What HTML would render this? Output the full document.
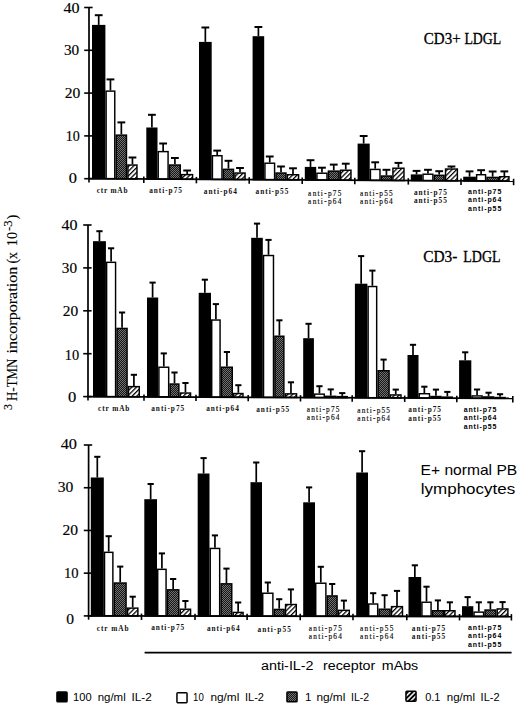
<!DOCTYPE html><html><head><meta charset="utf-8"><style>html,body{margin:0;padding:0;background:#fff;}body{width:520px;height:706px;overflow:hidden;position:relative;}svg{position:absolute;left:0;top:0;}text{font-family:"Liberation Sans",sans-serif;}.sf{font-family:"Liberation Serif",serif;}</style></head><body>
<svg width="520" height="706" viewBox="0 0 520 706">
<defs><pattern id="hatch" patternUnits="userSpaceOnUse" width="3.3" height="3.3" patternTransform="rotate(45)"><rect width="3.3" height="3.3" fill="#fff"/><rect width="1.25" height="3.3" fill="#000"/></pattern><pattern id="hatchL" patternUnits="userSpaceOnUse" width="3.4" height="3.4" patternTransform="rotate(45)"><rect width="3.4" height="3.4" fill="#000"/><rect width="1.5" height="3.4" fill="#fff"/></pattern><pattern id="dots" patternUnits="userSpaceOnUse" width="2" height="2"><rect width="2" height="2" fill="#161616"/><rect width="1" height="1" fill="#727272"/><rect x="1" y="1" width="1" height="1" fill="#727272"/></pattern></defs>
<rect width="520" height="706" fill="#fff"/>
<line x1="98.70" y1="15.20" x2="98.70" y2="24.90" stroke="#000" stroke-width="1.7"/><line x1="94.80" y1="15.20" x2="102.60" y2="15.20" stroke="#000" stroke-width="2.0"/><rect x="92.72" y="25.62" width="11.95" height="153.13" fill="#000" stroke="#000" stroke-width="1.45"/><line x1="110.45" y1="79.40" x2="110.45" y2="90.40" stroke="#000" stroke-width="1.7"/><line x1="106.55" y1="79.40" x2="114.35" y2="79.40" stroke="#000" stroke-width="2.0"/><rect x="106.12" y="91.12" width="8.65" height="87.70" fill="#fff" stroke="#000" stroke-width="1.45"/><line x1="121.35" y1="122.40" x2="121.35" y2="134.40" stroke="#000" stroke-width="1.7"/><line x1="117.45" y1="122.40" x2="125.25" y2="122.40" stroke="#000" stroke-width="2.0"/><rect x="116.22" y="135.12" width="10.25" height="43.77" fill="url(#dots)" stroke="#000" stroke-width="1.45"/><line x1="132.45" y1="157.50" x2="132.45" y2="164.30" stroke="#000" stroke-width="1.7"/><line x1="128.55" y1="157.50" x2="136.35" y2="157.50" stroke="#000" stroke-width="2.0"/><rect x="127.92" y="165.03" width="9.05" height="13.93" fill="url(#hatch)" stroke="#000" stroke-width="1.45"/><line x1="151.90" y1="114.80" x2="151.90" y2="127.50" stroke="#000" stroke-width="1.7"/><line x1="148.00" y1="114.80" x2="155.80" y2="114.80" stroke="#000" stroke-width="2.0"/><rect x="147.03" y="128.22" width="9.75" height="50.85" fill="#000" stroke="#000" stroke-width="1.45"/><line x1="163.15" y1="143.50" x2="163.15" y2="150.90" stroke="#000" stroke-width="1.7"/><line x1="159.25" y1="143.50" x2="167.05" y2="143.50" stroke="#000" stroke-width="2.0"/><rect x="158.22" y="151.62" width="9.85" height="27.51" fill="#fff" stroke="#000" stroke-width="1.45"/><line x1="174.90" y1="158.00" x2="174.90" y2="164.30" stroke="#000" stroke-width="1.7"/><line x1="171.00" y1="158.00" x2="178.80" y2="158.00" stroke="#000" stroke-width="2.0"/><rect x="169.53" y="165.03" width="10.75" height="14.18" fill="url(#dots)" stroke="#000" stroke-width="1.45"/><line x1="187.15" y1="170.50" x2="187.15" y2="173.90" stroke="#000" stroke-width="1.7"/><line x1="183.25" y1="170.50" x2="191.05" y2="170.50" stroke="#000" stroke-width="2.0"/><rect x="181.72" y="174.62" width="10.85" height="4.66" fill="url(#hatch)" stroke="#000" stroke-width="1.45"/><line x1="205.35" y1="27.50" x2="205.35" y2="41.90" stroke="#000" stroke-width="1.7"/><line x1="201.45" y1="27.50" x2="209.25" y2="27.50" stroke="#000" stroke-width="2.0"/><rect x="199.72" y="42.62" width="11.25" height="136.76" fill="#000" stroke="#000" stroke-width="1.45"/><line x1="217.20" y1="150.60" x2="217.20" y2="155.00" stroke="#000" stroke-width="1.7"/><line x1="213.30" y1="150.60" x2="221.10" y2="150.60" stroke="#000" stroke-width="2.0"/><rect x="212.42" y="155.72" width="9.55" height="23.73" fill="#fff" stroke="#000" stroke-width="1.45"/><line x1="228.45" y1="160.80" x2="228.45" y2="168.60" stroke="#000" stroke-width="1.7"/><line x1="224.55" y1="160.80" x2="232.35" y2="160.80" stroke="#000" stroke-width="2.0"/><rect x="223.42" y="169.32" width="10.05" height="10.20" fill="url(#dots)" stroke="#000" stroke-width="1.45"/><line x1="240.00" y1="168.00" x2="240.00" y2="172.30" stroke="#000" stroke-width="1.7"/><line x1="236.10" y1="168.00" x2="243.90" y2="168.00" stroke="#000" stroke-width="2.0"/><rect x="234.92" y="173.03" width="10.15" height="6.57" fill="url(#hatch)" stroke="#000" stroke-width="1.45"/><line x1="258.40" y1="27.00" x2="258.40" y2="36.20" stroke="#000" stroke-width="1.7"/><line x1="254.50" y1="27.00" x2="262.30" y2="27.00" stroke="#000" stroke-width="2.0"/><rect x="253.32" y="36.93" width="10.15" height="142.78" fill="#000" stroke="#000" stroke-width="1.45"/><line x1="269.75" y1="156.50" x2="269.75" y2="162.50" stroke="#000" stroke-width="1.7"/><line x1="265.85" y1="156.50" x2="273.65" y2="156.50" stroke="#000" stroke-width="2.0"/><rect x="264.93" y="163.22" width="9.65" height="16.54" fill="#fff" stroke="#000" stroke-width="1.45"/><line x1="281.00" y1="166.50" x2="281.00" y2="172.30" stroke="#000" stroke-width="1.7"/><line x1="277.10" y1="166.50" x2="284.90" y2="166.50" stroke="#000" stroke-width="2.0"/><rect x="276.03" y="173.03" width="9.95" height="6.81" fill="url(#dots)" stroke="#000" stroke-width="1.45"/><line x1="293.00" y1="168.30" x2="293.00" y2="174.00" stroke="#000" stroke-width="1.7"/><line x1="289.10" y1="168.30" x2="296.90" y2="168.30" stroke="#000" stroke-width="2.0"/><rect x="287.43" y="174.72" width="11.15" height="5.18" fill="url(#hatch)" stroke="#000" stroke-width="1.45"/><line x1="310.50" y1="160.20" x2="310.50" y2="166.90" stroke="#000" stroke-width="1.7"/><line x1="306.60" y1="160.20" x2="314.40" y2="160.20" stroke="#000" stroke-width="2.0"/><rect x="305.53" y="167.62" width="9.95" height="12.38" fill="#000" stroke="#000" stroke-width="1.45"/><line x1="321.95" y1="167.70" x2="321.95" y2="172.50" stroke="#000" stroke-width="1.7"/><line x1="318.05" y1="167.70" x2="325.85" y2="167.70" stroke="#000" stroke-width="2.0"/><rect x="316.93" y="173.22" width="10.05" height="6.85" fill="#fff" stroke="#000" stroke-width="1.45"/><line x1="333.75" y1="164.60" x2="333.75" y2="170.40" stroke="#000" stroke-width="1.7"/><line x1="329.85" y1="164.60" x2="337.65" y2="164.60" stroke="#000" stroke-width="2.0"/><rect x="328.43" y="171.12" width="10.65" height="9.02" fill="url(#dots)" stroke="#000" stroke-width="1.45"/><line x1="345.75" y1="163.70" x2="345.75" y2="169.50" stroke="#000" stroke-width="1.7"/><line x1="341.85" y1="163.70" x2="349.65" y2="163.70" stroke="#000" stroke-width="2.0"/><rect x="340.53" y="170.22" width="10.45" height="9.99" fill="url(#hatch)" stroke="#000" stroke-width="1.45"/><line x1="363.65" y1="136.00" x2="363.65" y2="143.60" stroke="#000" stroke-width="1.7"/><line x1="359.75" y1="136.00" x2="367.55" y2="136.00" stroke="#000" stroke-width="2.0"/><rect x="358.33" y="144.32" width="10.65" height="36.00" fill="#000" stroke="#000" stroke-width="1.45"/><line x1="375.20" y1="162.30" x2="375.20" y2="168.70" stroke="#000" stroke-width="1.7"/><line x1="371.30" y1="162.30" x2="379.10" y2="162.30" stroke="#000" stroke-width="2.0"/><rect x="370.43" y="169.42" width="9.55" height="10.97" fill="#fff" stroke="#000" stroke-width="1.45"/><line x1="386.45" y1="169.80" x2="386.45" y2="175.30" stroke="#000" stroke-width="1.7"/><line x1="382.55" y1="169.80" x2="390.35" y2="169.80" stroke="#000" stroke-width="2.0"/><rect x="381.43" y="176.03" width="10.05" height="4.43" fill="url(#dots)" stroke="#000" stroke-width="1.45"/><line x1="398.45" y1="162.90" x2="398.45" y2="167.50" stroke="#000" stroke-width="1.7"/><line x1="394.55" y1="162.90" x2="402.35" y2="162.90" stroke="#000" stroke-width="2.0"/><rect x="392.93" y="168.22" width="11.05" height="12.30" fill="url(#hatch)" stroke="#000" stroke-width="1.45"/><line x1="416.55" y1="170.90" x2="416.55" y2="174.40" stroke="#000" stroke-width="1.7"/><line x1="412.65" y1="170.90" x2="420.45" y2="170.90" stroke="#000" stroke-width="2.0"/><rect x="411.53" y="175.12" width="10.05" height="5.51" fill="#000" stroke="#000" stroke-width="1.45"/><line x1="427.95" y1="169.80" x2="427.95" y2="173.50" stroke="#000" stroke-width="1.7"/><line x1="424.05" y1="169.80" x2="431.85" y2="169.80" stroke="#000" stroke-width="2.0"/><rect x="423.03" y="174.22" width="9.85" height="6.48" fill="#fff" stroke="#000" stroke-width="1.45"/><line x1="439.20" y1="171.20" x2="439.20" y2="174.60" stroke="#000" stroke-width="1.7"/><line x1="435.30" y1="171.20" x2="443.10" y2="171.20" stroke="#000" stroke-width="2.0"/><rect x="434.33" y="175.32" width="9.75" height="5.44" fill="url(#dots)" stroke="#000" stroke-width="1.45"/><line x1="451.45" y1="166.50" x2="451.45" y2="168.30" stroke="#000" stroke-width="1.7"/><line x1="447.55" y1="166.50" x2="455.35" y2="166.50" stroke="#000" stroke-width="2.0"/><rect x="445.53" y="169.03" width="11.85" height="11.82" fill="url(#hatch)" stroke="#000" stroke-width="1.45"/><line x1="469.55" y1="171.40" x2="469.55" y2="176.70" stroke="#000" stroke-width="1.7"/><line x1="465.65" y1="171.40" x2="473.45" y2="171.40" stroke="#000" stroke-width="2.0"/><rect x="463.93" y="177.42" width="11.25" height="3.52" fill="#000" stroke="#000" stroke-width="1.45"/><line x1="481.10" y1="170.20" x2="481.10" y2="174.00" stroke="#000" stroke-width="1.7"/><line x1="477.20" y1="170.20" x2="485.00" y2="170.20" stroke="#000" stroke-width="2.0"/><rect x="476.62" y="174.72" width="8.95" height="6.29" fill="#fff" stroke="#000" stroke-width="1.45"/><line x1="492.65" y1="171.50" x2="492.65" y2="176.70" stroke="#000" stroke-width="1.7"/><line x1="488.75" y1="171.50" x2="496.55" y2="171.50" stroke="#000" stroke-width="2.0"/><rect x="487.03" y="177.42" width="11.25" height="3.66" fill="url(#dots)" stroke="#000" stroke-width="1.45"/><line x1="504.35" y1="171.40" x2="504.35" y2="176.00" stroke="#000" stroke-width="1.7"/><line x1="500.45" y1="171.40" x2="508.25" y2="171.40" stroke="#000" stroke-width="2.0"/><rect x="499.73" y="176.72" width="9.25" height="4.43" fill="url(#hatch)" stroke="#000" stroke-width="1.45"/>
<line x1="89.0" y1="7.5" x2="89.0" y2="178.7" stroke="#000" stroke-width="1.7"/>
<line x1="88.15" y1="178.7" x2="513.6" y2="181.21" stroke="#000" stroke-width="1.8"/>
<line x1="84.2" y1="178.70" x2="92.6" y2="178.70" stroke="#000" stroke-width="1.6"/>
<line x1="84.2" y1="135.90" x2="92.6" y2="135.90" stroke="#000" stroke-width="1.6"/>
<line x1="84.2" y1="93.10" x2="92.6" y2="93.10" stroke="#000" stroke-width="1.6"/>
<line x1="84.2" y1="50.30" x2="92.6" y2="50.30" stroke="#000" stroke-width="1.6"/>
<line x1="84.2" y1="7.50" x2="92.6" y2="7.50" stroke="#000" stroke-width="1.6"/>
<text class="sf" x="63.50" y="12.70" font-size="14.3" textLength="16.10" lengthAdjust="spacingAndGlyphs" stroke="#000" stroke-width="0.15">40</text>
<text class="sf" x="63.90" y="55.15" font-size="14.3" textLength="15.30" lengthAdjust="spacingAndGlyphs" stroke="#000" stroke-width="0.15">30</text>
<text class="sf" x="64.70" y="98.20" font-size="14.3" textLength="15.60" lengthAdjust="spacingAndGlyphs" stroke="#000" stroke-width="0.15">20</text>
<text class="sf" x="65.70" y="140.60" font-size="14.3" textLength="14.10" lengthAdjust="spacingAndGlyphs" stroke="#000" stroke-width="0.15">10</text>
<text class="sf" x="68.80" y="183.35" font-size="14.3" textLength="8.20" lengthAdjust="spacingAndGlyphs" stroke="#000" stroke-width="0.15">0</text>
<line x1="89.0" y1="178.7" x2="89.0" y2="182.5" stroke="#000" stroke-width="1.6"/>
<line x1="143.8" y1="176.62" x2="143.8" y2="183.02" stroke="#000" stroke-width="1.6"/>
<line x1="196.4" y1="176.93" x2="196.4" y2="183.33" stroke="#000" stroke-width="1.6"/>
<line x1="249.2" y1="177.25" x2="249.2" y2="183.65" stroke="#000" stroke-width="1.6"/>
<line x1="302.2" y1="177.56" x2="302.2" y2="183.96" stroke="#000" stroke-width="1.6"/>
<line x1="354.8" y1="177.87" x2="354.8" y2="184.27" stroke="#000" stroke-width="1.6"/>
<line x1="408.3" y1="178.19" x2="408.3" y2="184.59" stroke="#000" stroke-width="1.6"/>
<line x1="461.0" y1="178.50" x2="461.0" y2="184.90" stroke="#000" stroke-width="1.6"/>
<line x1="513.6" y1="178.81" x2="513.6" y2="185.21" stroke="#000" stroke-width="1.6"/>
<text class="sf" x="96.70" y="193.20" font-weight="bold" font-size="7.3" textLength="30.8" lengthAdjust="spacing" fill="#111">ctr mAb</text>
<text class="sf" x="149.20" y="192.80" font-weight="bold" font-size="7.3" textLength="32.7" lengthAdjust="spacing" fill="#111">anti-p75</text>
<text class="sf" x="203.70" y="193.60" font-weight="bold" font-size="7.3" textLength="33.2" lengthAdjust="spacing" fill="#111">anti-p64</text>
<text class="sf" x="255.60" y="194.40" font-weight="bold" font-size="7.3" textLength="32.7" lengthAdjust="spacing" fill="#111">anti-p55</text>
<text class="sf" x="308.10" y="195.50" font-weight="normal" font-size="7.3" textLength="33.3" lengthAdjust="spacing" fill="#111" stroke="#000" stroke-width="0.15">anti-p75</text>
<text class="sf" x="308.10" y="203.60" font-weight="normal" font-size="7.3" textLength="33.3" lengthAdjust="spacing" fill="#111" stroke="#000" stroke-width="0.15">anti-p64</text>
<text class="sf" x="360.00" y="195.50" font-weight="normal" font-size="7.3" textLength="32.7" lengthAdjust="spacing" fill="#111" stroke="#000" stroke-width="0.15">anti-p55</text>
<text class="sf" x="360.00" y="203.60" font-weight="normal" font-size="7.3" textLength="32.7" lengthAdjust="spacing" fill="#111" stroke="#000" stroke-width="0.15">anti-p64</text>
<text class="sf" x="413.90" y="194.60" font-weight="bold" font-size="7.3" textLength="33.0" lengthAdjust="spacing" fill="#111">anti-p75</text>
<text class="sf" x="413.90" y="203.10" font-weight="bold" font-size="7.3" textLength="33.0" lengthAdjust="spacing" fill="#111">anti-p55</text>
<text x="468.00" y="194.00" font-weight="bold" font-size="7.0" textLength="33.3" lengthAdjust="spacing">anti-p75</text>
<text x="468.00" y="202.45" font-weight="bold" font-size="7.0" textLength="33.3" lengthAdjust="spacing">anti-p64</text>
<text x="468.00" y="210.90" font-weight="bold" font-size="7.0" textLength="33.3" lengthAdjust="spacing">anti-p55</text>
<text class="sf" x="423.8" y="43.7" font-size="15.8" textLength="36.8" lengthAdjust="spacingAndGlyphs" stroke="#000" stroke-width="0.3">CD3+</text>
<text class="sf" x="464.4" y="43.7" font-size="15.8" textLength="36.85" lengthAdjust="spacingAndGlyphs" stroke="#000" stroke-width="0.3">LDGL</text>
<line x1="99.45" y1="231.20" x2="99.45" y2="241.20" stroke="#000" stroke-width="1.7"/><line x1="96.35" y1="231.20" x2="102.55" y2="231.20" stroke="#000" stroke-width="2.0"/><rect x="93.72" y="241.92" width="11.45" height="154.72" fill="#000" stroke="#000" stroke-width="1.45"/><line x1="111.10" y1="248.30" x2="111.10" y2="261.60" stroke="#000" stroke-width="1.7"/><line x1="108.00" y1="248.30" x2="114.20" y2="248.30" stroke="#000" stroke-width="2.0"/><rect x="106.62" y="262.33" width="8.95" height="134.37" fill="#fff" stroke="#000" stroke-width="1.45"/><line x1="122.05" y1="312.50" x2="122.05" y2="327.70" stroke="#000" stroke-width="1.7"/><line x1="118.95" y1="312.50" x2="125.15" y2="312.50" stroke="#000" stroke-width="2.0"/><rect x="117.02" y="328.43" width="10.05" height="68.32" fill="url(#dots)" stroke="#000" stroke-width="1.45"/><line x1="133.90" y1="374.80" x2="133.90" y2="385.90" stroke="#000" stroke-width="1.7"/><line x1="130.80" y1="374.80" x2="137.00" y2="374.80" stroke="#000" stroke-width="2.0"/><rect x="128.53" y="386.62" width="10.75" height="10.17" fill="url(#hatch)" stroke="#000" stroke-width="1.45"/><line x1="152.60" y1="282.60" x2="152.60" y2="297.50" stroke="#000" stroke-width="1.7"/><line x1="149.50" y1="282.60" x2="155.70" y2="282.60" stroke="#000" stroke-width="2.0"/><rect x="147.72" y="298.23" width="9.75" height="98.65" fill="#000" stroke="#000" stroke-width="1.45"/><line x1="163.80" y1="353.40" x2="163.80" y2="366.50" stroke="#000" stroke-width="1.7"/><line x1="160.70" y1="353.40" x2="166.90" y2="353.40" stroke="#000" stroke-width="2.0"/><rect x="158.92" y="367.23" width="9.75" height="29.69" fill="#fff" stroke="#000" stroke-width="1.45"/><line x1="174.50" y1="372.50" x2="174.50" y2="383.30" stroke="#000" stroke-width="1.7"/><line x1="171.40" y1="372.50" x2="177.60" y2="372.50" stroke="#000" stroke-width="2.0"/><rect x="170.12" y="384.03" width="8.75" height="12.94" fill="url(#dots)" stroke="#000" stroke-width="1.45"/><line x1="185.45" y1="383.00" x2="185.45" y2="392.30" stroke="#000" stroke-width="1.7"/><line x1="182.35" y1="383.00" x2="188.55" y2="383.00" stroke="#000" stroke-width="2.0"/><rect x="180.32" y="393.03" width="10.25" height="3.99" fill="url(#hatch)" stroke="#000" stroke-width="1.45"/><line x1="204.85" y1="279.70" x2="204.85" y2="292.80" stroke="#000" stroke-width="1.7"/><line x1="201.75" y1="279.70" x2="207.95" y2="279.70" stroke="#000" stroke-width="2.0"/><rect x="199.42" y="293.53" width="10.85" height="103.57" fill="#000" stroke="#000" stroke-width="1.45"/><line x1="215.90" y1="304.10" x2="215.90" y2="319.30" stroke="#000" stroke-width="1.7"/><line x1="212.80" y1="304.10" x2="219.00" y2="304.10" stroke="#000" stroke-width="2.0"/><rect x="211.72" y="320.03" width="8.35" height="77.11" fill="#fff" stroke="#000" stroke-width="1.45"/><line x1="226.90" y1="352.00" x2="226.90" y2="366.50" stroke="#000" stroke-width="1.7"/><line x1="223.80" y1="352.00" x2="230.00" y2="352.00" stroke="#000" stroke-width="2.0"/><rect x="221.53" y="367.23" width="10.75" height="29.96" fill="url(#dots)" stroke="#000" stroke-width="1.45"/><line x1="238.35" y1="385.20" x2="238.35" y2="392.80" stroke="#000" stroke-width="1.7"/><line x1="235.25" y1="385.20" x2="241.45" y2="385.20" stroke="#000" stroke-width="2.0"/><rect x="233.72" y="393.53" width="9.25" height="3.71" fill="url(#hatch)" stroke="#000" stroke-width="1.45"/><line x1="257.00" y1="223.60" x2="257.00" y2="237.80" stroke="#000" stroke-width="1.7"/><line x1="253.90" y1="223.60" x2="260.10" y2="223.60" stroke="#000" stroke-width="2.0"/><rect x="251.92" y="238.53" width="10.15" height="158.79" fill="#000" stroke="#000" stroke-width="1.45"/><line x1="268.50" y1="239.90" x2="268.50" y2="254.80" stroke="#000" stroke-width="1.7"/><line x1="265.40" y1="239.90" x2="271.60" y2="239.90" stroke="#000" stroke-width="2.0"/><rect x="263.53" y="255.53" width="9.95" height="141.84" fill="#fff" stroke="#000" stroke-width="1.45"/><line x1="279.40" y1="320.30" x2="279.40" y2="335.50" stroke="#000" stroke-width="1.7"/><line x1="276.30" y1="320.30" x2="282.50" y2="320.30" stroke="#000" stroke-width="2.0"/><rect x="274.93" y="336.23" width="8.95" height="61.19" fill="url(#dots)" stroke="#000" stroke-width="1.45"/><line x1="290.95" y1="382.30" x2="290.95" y2="393.10" stroke="#000" stroke-width="1.7"/><line x1="287.85" y1="382.30" x2="294.05" y2="382.30" stroke="#000" stroke-width="2.0"/><rect x="285.33" y="393.83" width="11.25" height="3.63" fill="url(#hatch)" stroke="#000" stroke-width="1.45"/><line x1="308.55" y1="323.80" x2="308.55" y2="338.20" stroke="#000" stroke-width="1.7"/><line x1="305.45" y1="323.80" x2="311.65" y2="323.80" stroke="#000" stroke-width="2.0"/><rect x="303.93" y="338.93" width="9.25" height="58.61" fill="#000" stroke="#000" stroke-width="1.45"/><line x1="319.45" y1="386.20" x2="319.45" y2="393.40" stroke="#000" stroke-width="1.7"/><line x1="316.35" y1="386.20" x2="322.55" y2="386.20" stroke="#000" stroke-width="2.0"/><rect x="314.62" y="394.12" width="9.65" height="3.46" fill="#fff" stroke="#000" stroke-width="1.45"/><line x1="330.75" y1="389.40" x2="330.75" y2="395.60" stroke="#000" stroke-width="1.7"/><line x1="327.65" y1="389.40" x2="333.85" y2="389.40" stroke="#000" stroke-width="2.0"/><rect x="325.73" y="396.33" width="10.05" height="1.30" fill="url(#dots)" stroke="#000" stroke-width="1.45"/><line x1="342.25" y1="393.10" x2="342.25" y2="395.90" stroke="#000" stroke-width="1.7"/><line x1="339.15" y1="393.10" x2="345.35" y2="393.10" stroke="#000" stroke-width="2.0"/><rect x="337.23" y="396.62" width="10.05" height="1.05" fill="url(#hatch)" stroke="#000" stroke-width="1.45"/><line x1="361.15" y1="256.10" x2="361.15" y2="283.70" stroke="#000" stroke-width="1.7"/><line x1="358.05" y1="256.10" x2="364.25" y2="256.10" stroke="#000" stroke-width="2.0"/><rect x="355.62" y="284.43" width="11.05" height="113.33" fill="#000" stroke="#000" stroke-width="1.45"/><line x1="372.40" y1="270.60" x2="372.40" y2="285.80" stroke="#000" stroke-width="1.7"/><line x1="369.30" y1="270.60" x2="375.50" y2="270.60" stroke="#000" stroke-width="2.0"/><rect x="368.12" y="286.53" width="8.55" height="111.28" fill="#fff" stroke="#000" stroke-width="1.45"/><line x1="383.60" y1="359.60" x2="383.60" y2="370.00" stroke="#000" stroke-width="1.7"/><line x1="380.50" y1="359.60" x2="386.70" y2="359.60" stroke="#000" stroke-width="2.0"/><rect x="378.12" y="370.73" width="10.95" height="27.13" fill="url(#dots)" stroke="#000" stroke-width="1.45"/><line x1="395.75" y1="389.60" x2="395.75" y2="394.20" stroke="#000" stroke-width="1.7"/><line x1="392.65" y1="389.60" x2="398.85" y2="389.60" stroke="#000" stroke-width="2.0"/><rect x="390.53" y="394.93" width="10.45" height="2.98" fill="url(#hatch)" stroke="#000" stroke-width="1.45"/><line x1="413.00" y1="344.80" x2="413.00" y2="355.00" stroke="#000" stroke-width="1.7"/><line x1="409.90" y1="344.80" x2="416.10" y2="344.80" stroke="#000" stroke-width="2.0"/><rect x="408.23" y="355.73" width="9.55" height="42.25" fill="#000" stroke="#000" stroke-width="1.45"/><line x1="424.35" y1="386.70" x2="424.35" y2="393.00" stroke="#000" stroke-width="1.7"/><line x1="421.25" y1="386.70" x2="427.45" y2="386.70" stroke="#000" stroke-width="2.0"/><rect x="419.23" y="393.73" width="10.25" height="4.30" fill="#fff" stroke="#000" stroke-width="1.45"/><line x1="435.95" y1="389.60" x2="435.95" y2="395.80" stroke="#000" stroke-width="1.7"/><line x1="432.85" y1="389.60" x2="439.05" y2="389.60" stroke="#000" stroke-width="2.0"/><rect x="430.93" y="396.53" width="10.05" height="1.55" fill="url(#dots)" stroke="#000" stroke-width="1.45"/><line x1="447.35" y1="391.90" x2="447.35" y2="396.40" stroke="#000" stroke-width="1.7"/><line x1="444.25" y1="391.90" x2="450.45" y2="391.90" stroke="#000" stroke-width="2.0"/><rect x="442.43" y="397.12" width="9.85" height="1.00" fill="url(#hatch)" stroke="#000" stroke-width="1.45"/><line x1="465.20" y1="352.30" x2="465.20" y2="360.30" stroke="#000" stroke-width="1.7"/><line x1="462.10" y1="352.30" x2="468.30" y2="352.30" stroke="#000" stroke-width="2.0"/><rect x="459.83" y="361.03" width="10.75" height="37.18" fill="#000" stroke="#000" stroke-width="1.45"/><line x1="477.05" y1="389.50" x2="477.05" y2="395.20" stroke="#000" stroke-width="1.7"/><line x1="473.95" y1="389.50" x2="480.15" y2="389.50" stroke="#000" stroke-width="2.0"/><rect x="472.03" y="395.93" width="10.05" height="2.33" fill="#fff" stroke="#000" stroke-width="1.45"/><line x1="488.55" y1="392.70" x2="488.55" y2="396.20" stroke="#000" stroke-width="1.7"/><line x1="485.45" y1="392.70" x2="491.65" y2="392.70" stroke="#000" stroke-width="2.0"/><rect x="483.53" y="396.93" width="10.05" height="1.38" fill="url(#dots)" stroke="#000" stroke-width="1.45"/><line x1="500.05" y1="394.20" x2="500.05" y2="396.80" stroke="#000" stroke-width="1.7"/><line x1="496.95" y1="394.20" x2="503.15" y2="394.20" stroke="#000" stroke-width="2.0"/><rect x="495.03" y="397.53" width="10.05" height="0.82" fill="url(#hatch)" stroke="#000" stroke-width="1.45"/>
<line x1="88.0" y1="225.0" x2="88.0" y2="396.6" stroke="#000" stroke-width="1.7"/>
<line x1="87.15" y1="396.6" x2="512.8" y2="398.40" stroke="#000" stroke-width="1.8"/>
<line x1="83.2" y1="396.60" x2="91.6" y2="396.60" stroke="#000" stroke-width="1.6"/>
<line x1="83.2" y1="353.70" x2="91.6" y2="353.70" stroke="#000" stroke-width="1.6"/>
<line x1="83.2" y1="310.80" x2="91.6" y2="310.80" stroke="#000" stroke-width="1.6"/>
<line x1="83.2" y1="267.90" x2="91.6" y2="267.90" stroke="#000" stroke-width="1.6"/>
<line x1="83.2" y1="225.00" x2="91.6" y2="225.00" stroke="#000" stroke-width="1.6"/>
<text class="sf" x="61.40" y="230.15" font-size="14.3" textLength="16.00" lengthAdjust="spacingAndGlyphs" stroke="#000" stroke-width="0.15">40</text>
<text class="sf" x="61.80" y="272.95" font-size="14.3" textLength="15.20" lengthAdjust="spacingAndGlyphs" stroke="#000" stroke-width="0.15">30</text>
<text class="sf" x="62.70" y="315.85" font-size="14.3" textLength="15.40" lengthAdjust="spacingAndGlyphs" stroke="#000" stroke-width="0.15">20</text>
<text class="sf" x="64.70" y="359.95" font-size="14.3" textLength="14.40" lengthAdjust="spacingAndGlyphs" stroke="#000" stroke-width="0.15">10</text>
<text class="sf" x="67.90" y="401.75" font-size="14.3" textLength="8.30" lengthAdjust="spacingAndGlyphs" stroke="#000" stroke-width="0.15">0</text>
<line x1="88.0" y1="396.6" x2="88.0" y2="400.40000000000003" stroke="#000" stroke-width="1.6"/>
<line x1="144.0" y1="394.43" x2="144.0" y2="400.83" stroke="#000" stroke-width="1.6"/>
<line x1="196.0" y1="394.66" x2="196.0" y2="401.06" stroke="#000" stroke-width="1.6"/>
<line x1="248.2" y1="394.88" x2="248.2" y2="401.28" stroke="#000" stroke-width="1.6"/>
<line x1="300.5" y1="395.10" x2="300.5" y2="401.50" stroke="#000" stroke-width="1.6"/>
<line x1="352.2" y1="395.32" x2="352.2" y2="401.72" stroke="#000" stroke-width="1.6"/>
<line x1="404.7" y1="395.54" x2="404.7" y2="401.94" stroke="#000" stroke-width="1.6"/>
<line x1="456.8" y1="395.77" x2="456.8" y2="402.17" stroke="#000" stroke-width="1.6"/>
<line x1="512.8" y1="396.00" x2="512.8" y2="402.40" stroke="#000" stroke-width="1.6"/>
<text class="sf" x="98.10" y="411.20" font-weight="bold" font-size="7.3" textLength="31.3" lengthAdjust="spacing" fill="#111">ctr mAb</text>
<text class="sf" x="151.20" y="410.60" font-weight="bold" font-size="7.3" textLength="33.0" lengthAdjust="spacing" fill="#111">anti-p75</text>
<text class="sf" x="206.20" y="411.20" font-weight="bold" font-size="7.3" textLength="32.6" lengthAdjust="spacing" fill="#111">anti-p64</text>
<text class="sf" x="256.20" y="411.90" font-weight="bold" font-size="7.3" textLength="33.0" lengthAdjust="spacing" fill="#111">anti-p55</text>
<text class="sf" x="306.70" y="411.50" font-weight="normal" font-size="7.3" textLength="32.7" lengthAdjust="spacing" fill="#111" stroke="#000" stroke-width="0.15">anti-p75</text>
<text class="sf" x="306.70" y="420.20" font-weight="normal" font-size="7.3" textLength="32.7" lengthAdjust="spacing" fill="#111" stroke="#000" stroke-width="0.15">anti-p64</text>
<text class="sf" x="357.30" y="412.50" font-weight="normal" font-size="7.3" textLength="32.7" lengthAdjust="spacing" fill="#111" stroke="#000" stroke-width="0.15">anti-p55</text>
<text class="sf" x="357.30" y="421.20" font-weight="normal" font-size="7.3" textLength="32.7" lengthAdjust="spacing" fill="#111" stroke="#000" stroke-width="0.15">anti-p64</text>
<text class="sf" x="408.20" y="412.30" font-weight="bold" font-size="7.3" textLength="32.8" lengthAdjust="spacing" fill="#111">anti-p75</text>
<text class="sf" x="408.20" y="421.20" font-weight="bold" font-size="7.3" textLength="32.8" lengthAdjust="spacing" fill="#111">anti-p55</text>
<text x="463.80" y="411.60" font-weight="bold" font-size="7.0" textLength="32.6" lengthAdjust="spacing">anti-p75</text>
<text x="463.80" y="420.10" font-weight="bold" font-size="7.0" textLength="32.6" lengthAdjust="spacing">anti-p64</text>
<text x="463.80" y="428.60" font-weight="bold" font-size="7.0" textLength="32.6" lengthAdjust="spacing">anti-p55</text>
<text class="sf" x="423.2" y="261.7" font-size="15.8" textLength="34.2" lengthAdjust="spacingAndGlyphs" stroke="#000" stroke-width="0.3">CD3-</text>
<text class="sf" x="463.3" y="261.7" font-size="15.8" textLength="37.4" lengthAdjust="spacingAndGlyphs" stroke="#000" stroke-width="0.3">LDGL</text>
<line x1="97.30" y1="456.80" x2="97.30" y2="477.50" stroke="#000" stroke-width="1.7"/><line x1="94.20" y1="456.80" x2="100.40" y2="456.80" stroke="#000" stroke-width="2.0"/><rect x="91.52" y="478.23" width="11.55" height="137.69" fill="#000" stroke="#000" stroke-width="1.45"/><line x1="108.70" y1="536.20" x2="108.70" y2="551.60" stroke="#000" stroke-width="1.7"/><line x1="105.60" y1="536.20" x2="111.80" y2="536.20" stroke="#000" stroke-width="2.0"/><rect x="104.52" y="552.33" width="8.35" height="63.60" fill="#fff" stroke="#000" stroke-width="1.45"/><line x1="120.20" y1="566.60" x2="120.20" y2="582.30" stroke="#000" stroke-width="1.7"/><line x1="117.10" y1="566.60" x2="123.30" y2="566.60" stroke="#000" stroke-width="2.0"/><rect x="114.32" y="583.02" width="11.75" height="32.92" fill="url(#dots)" stroke="#000" stroke-width="1.45"/><line x1="132.70" y1="596.70" x2="132.70" y2="607.40" stroke="#000" stroke-width="1.7"/><line x1="129.60" y1="596.70" x2="135.80" y2="596.70" stroke="#000" stroke-width="2.0"/><rect x="127.52" y="608.12" width="10.35" height="7.84" fill="url(#hatch)" stroke="#000" stroke-width="1.45"/><line x1="150.65" y1="484.00" x2="150.65" y2="499.20" stroke="#000" stroke-width="1.7"/><line x1="147.55" y1="484.00" x2="153.75" y2="484.00" stroke="#000" stroke-width="2.0"/><rect x="145.03" y="499.93" width="11.25" height="116.06" fill="#000" stroke="#000" stroke-width="1.45"/><line x1="161.90" y1="553.40" x2="161.90" y2="568.60" stroke="#000" stroke-width="1.7"/><line x1="158.80" y1="553.40" x2="165.00" y2="553.40" stroke="#000" stroke-width="2.0"/><rect x="157.72" y="569.33" width="8.35" height="46.68" fill="#fff" stroke="#000" stroke-width="1.45"/><line x1="173.15" y1="579.00" x2="173.15" y2="589.10" stroke="#000" stroke-width="1.7"/><line x1="170.05" y1="579.00" x2="176.25" y2="579.00" stroke="#000" stroke-width="2.0"/><rect x="167.53" y="589.83" width="11.25" height="26.19" fill="url(#dots)" stroke="#000" stroke-width="1.45"/><line x1="185.40" y1="601.00" x2="185.40" y2="608.50" stroke="#000" stroke-width="1.7"/><line x1="182.30" y1="601.00" x2="188.50" y2="601.00" stroke="#000" stroke-width="2.0"/><rect x="180.22" y="609.23" width="10.35" height="6.81" fill="url(#hatch)" stroke="#000" stroke-width="1.45"/><line x1="203.60" y1="458.10" x2="203.60" y2="473.50" stroke="#000" stroke-width="1.7"/><line x1="200.50" y1="458.10" x2="206.70" y2="458.10" stroke="#000" stroke-width="2.0"/><rect x="198.42" y="474.23" width="10.35" height="141.84" fill="#000" stroke="#000" stroke-width="1.45"/><line x1="214.95" y1="535.40" x2="214.95" y2="547.70" stroke="#000" stroke-width="1.7"/><line x1="211.85" y1="535.40" x2="218.05" y2="535.40" stroke="#000" stroke-width="2.0"/><rect x="210.22" y="548.43" width="9.45" height="67.65" fill="#fff" stroke="#000" stroke-width="1.45"/><line x1="226.45" y1="568.60" x2="226.45" y2="583.10" stroke="#000" stroke-width="1.7"/><line x1="223.35" y1="568.60" x2="229.55" y2="568.60" stroke="#000" stroke-width="2.0"/><rect x="221.12" y="583.83" width="10.65" height="32.27" fill="url(#dots)" stroke="#000" stroke-width="1.45"/><line x1="238.15" y1="602.50" x2="238.15" y2="611.70" stroke="#000" stroke-width="1.7"/><line x1="235.05" y1="602.50" x2="241.25" y2="602.50" stroke="#000" stroke-width="2.0"/><rect x="233.22" y="612.43" width="9.85" height="3.69" fill="url(#hatch)" stroke="#000" stroke-width="1.45"/><line x1="256.25" y1="462.50" x2="256.25" y2="482.20" stroke="#000" stroke-width="1.7"/><line x1="253.15" y1="462.50" x2="259.35" y2="462.50" stroke="#000" stroke-width="2.0"/><rect x="251.22" y="482.93" width="10.05" height="133.21" fill="#000" stroke="#000" stroke-width="1.45"/><line x1="267.80" y1="582.50" x2="267.80" y2="592.50" stroke="#000" stroke-width="1.7"/><line x1="264.70" y1="582.50" x2="270.90" y2="582.50" stroke="#000" stroke-width="2.0"/><rect x="262.73" y="593.23" width="10.15" height="22.93" fill="#fff" stroke="#000" stroke-width="1.45"/><line x1="279.20" y1="599.20" x2="279.20" y2="608.70" stroke="#000" stroke-width="1.7"/><line x1="276.10" y1="599.20" x2="282.30" y2="599.20" stroke="#000" stroke-width="2.0"/><rect x="274.33" y="609.43" width="9.75" height="6.74" fill="url(#dots)" stroke="#000" stroke-width="1.45"/><line x1="290.90" y1="589.40" x2="290.90" y2="603.80" stroke="#000" stroke-width="1.7"/><line x1="287.80" y1="589.40" x2="294.00" y2="589.40" stroke="#000" stroke-width="2.0"/><rect x="285.53" y="604.52" width="10.75" height="11.66" fill="url(#hatch)" stroke="#000" stroke-width="1.45"/><line x1="309.10" y1="487.40" x2="309.10" y2="502.30" stroke="#000" stroke-width="1.7"/><line x1="306.00" y1="487.40" x2="312.20" y2="487.40" stroke="#000" stroke-width="2.0"/><rect x="303.93" y="503.03" width="10.35" height="113.19" fill="#000" stroke="#000" stroke-width="1.45"/><line x1="320.80" y1="566.80" x2="320.80" y2="582.50" stroke="#000" stroke-width="1.7"/><line x1="317.70" y1="566.80" x2="323.90" y2="566.80" stroke="#000" stroke-width="2.0"/><rect x="315.73" y="583.23" width="10.15" height="33.00" fill="#fff" stroke="#000" stroke-width="1.45"/><line x1="332.20" y1="584.00" x2="332.20" y2="595.20" stroke="#000" stroke-width="1.7"/><line x1="329.10" y1="584.00" x2="335.30" y2="584.00" stroke="#000" stroke-width="2.0"/><rect x="327.33" y="595.93" width="9.75" height="20.32" fill="url(#dots)" stroke="#000" stroke-width="1.45"/><line x1="343.90" y1="600.60" x2="343.90" y2="609.60" stroke="#000" stroke-width="1.7"/><line x1="340.80" y1="600.60" x2="347.00" y2="600.60" stroke="#000" stroke-width="2.0"/><rect x="338.53" y="610.33" width="10.75" height="5.94" fill="url(#hatch)" stroke="#000" stroke-width="1.45"/><line x1="362.10" y1="451.20" x2="362.10" y2="472.50" stroke="#000" stroke-width="1.7"/><line x1="359.00" y1="451.20" x2="365.20" y2="451.20" stroke="#000" stroke-width="2.0"/><rect x="356.93" y="473.23" width="10.35" height="143.06" fill="#000" stroke="#000" stroke-width="1.45"/><line x1="373.20" y1="593.20" x2="373.20" y2="603.30" stroke="#000" stroke-width="1.7"/><line x1="370.10" y1="593.20" x2="376.30" y2="593.20" stroke="#000" stroke-width="2.0"/><rect x="368.73" y="604.02" width="8.95" height="12.28" fill="#fff" stroke="#000" stroke-width="1.45"/><line x1="384.60" y1="595.20" x2="384.60" y2="608.50" stroke="#000" stroke-width="1.7"/><line x1="381.50" y1="595.20" x2="387.70" y2="595.20" stroke="#000" stroke-width="2.0"/><rect x="379.12" y="609.23" width="10.95" height="7.09" fill="url(#dots)" stroke="#000" stroke-width="1.45"/><line x1="397.00" y1="590.90" x2="397.00" y2="605.90" stroke="#000" stroke-width="1.7"/><line x1="393.90" y1="590.90" x2="400.10" y2="590.90" stroke="#000" stroke-width="2.0"/><rect x="391.53" y="606.62" width="10.95" height="9.71" fill="url(#hatch)" stroke="#000" stroke-width="1.45"/><line x1="414.85" y1="565.30" x2="414.85" y2="577.00" stroke="#000" stroke-width="1.7"/><line x1="411.75" y1="565.30" x2="417.95" y2="565.30" stroke="#000" stroke-width="2.0"/><rect x="409.23" y="577.73" width="11.25" height="38.64" fill="#000" stroke="#000" stroke-width="1.45"/><line x1="426.50" y1="586.70" x2="426.50" y2="601.50" stroke="#000" stroke-width="1.7"/><line x1="423.40" y1="586.70" x2="429.60" y2="586.70" stroke="#000" stroke-width="2.0"/><rect x="421.93" y="602.23" width="9.15" height="14.15" fill="#fff" stroke="#000" stroke-width="1.45"/><line x1="437.90" y1="600.40" x2="437.90" y2="610.00" stroke="#000" stroke-width="1.7"/><line x1="434.80" y1="600.40" x2="441.00" y2="600.40" stroke="#000" stroke-width="2.0"/><rect x="432.53" y="610.73" width="10.75" height="5.67" fill="url(#dots)" stroke="#000" stroke-width="1.45"/><line x1="449.85" y1="602.30" x2="449.85" y2="610.00" stroke="#000" stroke-width="1.7"/><line x1="446.75" y1="602.30" x2="452.95" y2="602.30" stroke="#000" stroke-width="2.0"/><rect x="444.73" y="610.73" width="10.25" height="5.69" fill="url(#hatch)" stroke="#000" stroke-width="1.45"/><line x1="467.65" y1="597.10" x2="467.65" y2="606.20" stroke="#000" stroke-width="1.7"/><line x1="464.55" y1="597.10" x2="470.75" y2="597.10" stroke="#000" stroke-width="2.0"/><rect x="462.73" y="606.93" width="9.85" height="9.51" fill="#000" stroke="#000" stroke-width="1.45"/><line x1="478.80" y1="602.30" x2="478.80" y2="611.40" stroke="#000" stroke-width="1.7"/><line x1="475.70" y1="602.30" x2="481.90" y2="602.30" stroke="#000" stroke-width="2.0"/><rect x="474.03" y="612.12" width="9.55" height="4.33" fill="#fff" stroke="#000" stroke-width="1.45"/><line x1="490.40" y1="602.30" x2="490.40" y2="609.30" stroke="#000" stroke-width="1.7"/><line x1="487.30" y1="602.30" x2="493.50" y2="602.30" stroke="#000" stroke-width="2.0"/><rect x="485.03" y="610.02" width="10.75" height="6.44" fill="url(#dots)" stroke="#000" stroke-width="1.45"/><line x1="502.55" y1="602.10" x2="502.55" y2="608.20" stroke="#000" stroke-width="1.7"/><line x1="499.45" y1="602.10" x2="505.65" y2="602.10" stroke="#000" stroke-width="2.0"/><rect x="497.23" y="608.93" width="10.65" height="7.56" fill="url(#hatch)" stroke="#000" stroke-width="1.45"/>
<line x1="88.6" y1="445.0" x2="88.6" y2="615.9" stroke="#000" stroke-width="1.7"/>
<line x1="87.75" y1="615.9" x2="511.4" y2="616.50" stroke="#000" stroke-width="1.8"/>
<line x1="83.8" y1="615.90" x2="92.19999999999999" y2="615.90" stroke="#000" stroke-width="1.6"/>
<line x1="83.8" y1="573.17" x2="92.19999999999999" y2="573.17" stroke="#000" stroke-width="1.6"/>
<line x1="83.8" y1="530.45" x2="92.19999999999999" y2="530.45" stroke="#000" stroke-width="1.6"/>
<line x1="83.8" y1="487.73" x2="92.19999999999999" y2="487.73" stroke="#000" stroke-width="1.6"/>
<line x1="83.8" y1="445.00" x2="92.19999999999999" y2="445.00" stroke="#000" stroke-width="1.6"/>
<text class="sf" x="60.70" y="448.85" font-size="14.3" textLength="16.30" lengthAdjust="spacingAndGlyphs" stroke="#000" stroke-width="0.15">40</text>
<text class="sf" x="57.80" y="491.65" font-size="14.3" textLength="15.60" lengthAdjust="spacingAndGlyphs" stroke="#000" stroke-width="0.15">30</text>
<text class="sf" x="62.40" y="535.35" font-size="14.3" textLength="15.60" lengthAdjust="spacingAndGlyphs" stroke="#000" stroke-width="0.15">20</text>
<text class="sf" x="63.90" y="578.05" font-size="14.3" textLength="14.60" lengthAdjust="spacingAndGlyphs" stroke="#000" stroke-width="0.15">10</text>
<text class="sf" x="66.20" y="623.65" font-size="14.3" textLength="7.80" lengthAdjust="spacingAndGlyphs" stroke="#000" stroke-width="0.15">0</text>
<line x1="88.6" y1="615.9" x2="88.6" y2="619.6999999999999" stroke="#000" stroke-width="1.6"/>
<line x1="141.5" y1="613.57" x2="141.5" y2="619.97" stroke="#000" stroke-width="1.6"/>
<line x1="195.0" y1="613.65" x2="195.0" y2="620.05" stroke="#000" stroke-width="1.6"/>
<line x1="247.1" y1="613.72" x2="247.1" y2="620.12" stroke="#000" stroke-width="1.6"/>
<line x1="300.2" y1="613.80" x2="300.2" y2="620.20" stroke="#000" stroke-width="1.6"/>
<line x1="353.0" y1="613.87" x2="353.0" y2="620.27" stroke="#000" stroke-width="1.6"/>
<line x1="406.8" y1="613.95" x2="406.8" y2="620.35" stroke="#000" stroke-width="1.6"/>
<line x1="459.5" y1="614.03" x2="459.5" y2="620.43" stroke="#000" stroke-width="1.6"/>
<line x1="511.4" y1="614.10" x2="511.4" y2="620.50" stroke="#000" stroke-width="1.6"/>
<text class="sf" x="96.70" y="630.50" font-weight="bold" font-size="7.3" textLength="31.8" lengthAdjust="spacing" fill="#111">ctr mAb</text>
<text class="sf" x="151.20" y="629.90" font-weight="bold" font-size="7.3" textLength="33.0" lengthAdjust="spacing" fill="#111">anti-p75</text>
<text class="sf" x="206.90" y="631.10" font-weight="bold" font-size="7.3" textLength="32.7" lengthAdjust="spacing" fill="#111">anti-p64</text>
<text class="sf" x="257.50" y="631.80" font-weight="bold" font-size="7.3" textLength="33.3" lengthAdjust="spacing" fill="#111">anti-p55</text>
<text class="sf" x="308.70" y="630.50" font-weight="normal" font-size="7.3" textLength="33.2" lengthAdjust="spacing" fill="#111" stroke="#000" stroke-width="0.15">anti-p75</text>
<text class="sf" x="308.70" y="638.80" font-weight="normal" font-size="7.3" textLength="33.2" lengthAdjust="spacing" fill="#111" stroke="#000" stroke-width="0.15">anti-p64</text>
<text class="sf" x="360.00" y="631.10" font-weight="normal" font-size="7.3" textLength="33.3" lengthAdjust="spacing" fill="#111" stroke="#000" stroke-width="0.15">anti-p55</text>
<text class="sf" x="360.00" y="639.20" font-weight="normal" font-size="7.3" textLength="33.3" lengthAdjust="spacing" fill="#111" stroke="#000" stroke-width="0.15">anti-p64</text>
<text class="sf" x="411.80" y="630.70" font-weight="bold" font-size="7.3" textLength="33.4" lengthAdjust="spacing" fill="#111">anti-p75</text>
<text class="sf" x="411.80" y="639.20" font-weight="bold" font-size="7.3" textLength="33.4" lengthAdjust="spacing" fill="#111">anti-p55</text>
<text x="468.00" y="629.60" font-weight="bold" font-size="7.0" textLength="33.3" lengthAdjust="spacing">anti-p75</text>
<text x="468.00" y="638.10" font-weight="bold" font-size="7.0" textLength="33.3" lengthAdjust="spacing">anti-p64</text>
<text x="468.00" y="646.60" font-weight="bold" font-size="7.0" textLength="33.3" lengthAdjust="spacing">anti-p55</text>
<text x="420.6" y="475.1" font-size="14.2" textLength="96.6" lengthAdjust="spacingAndGlyphs">E+ normal PB</text>
<text x="420.8" y="494.2" font-size="14.2" textLength="94.4" lengthAdjust="spacingAndGlyphs">lymphocytes</text>
<g transform="translate(17.3,0) rotate(-90)">
<text class="sf" x="-410.00" y="-5.0" font-size="12.0" stroke="#000" stroke-width="0.12">3</text>
<text class="sf" x="-401.00" y="0" font-size="14.7" textLength="42.40" lengthAdjust="spacingAndGlyphs" stroke="#000" stroke-width="0.12">H-TMN</text>
<text class="sf" x="-353.40" y="0" font-size="14.7" textLength="86.60" lengthAdjust="spacingAndGlyphs" stroke="#000" stroke-width="0.12">incorporation</text>
<text class="sf" x="-263.60" y="0" font-size="14.7" textLength="11.40" lengthAdjust="spacingAndGlyphs" stroke="#000" stroke-width="0.12">(x</text>
<text class="sf" x="-246.20" y="0" font-size="14.7" textLength="14.20" lengthAdjust="spacingAndGlyphs" stroke="#000" stroke-width="0.12">10</text>
<text class="sf" x="-231.00" y="-5.3" font-size="12.7" textLength="10.60" lengthAdjust="spacingAndGlyphs" stroke="#000" stroke-width="0.12">-3</text>
<text class="sf" x="-219.60" y="0" font-size="14.7" stroke="#000" stroke-width="0.12">)</text>
</g>
<line x1="144.6" y1="652.6" x2="511.6" y2="652.6" stroke="#000" stroke-width="1.6"/>
<text x="261.0" y="670.4" font-size="12.3" textLength="52.60" lengthAdjust="spacingAndGlyphs">anti-IL-2</text>
<text x="323.0" y="670.4" font-size="12.3" textLength="52.30" lengthAdjust="spacingAndGlyphs">receptor</text>
<text x="381.8" y="670.4" font-size="12.3" textLength="36.40" lengthAdjust="spacingAndGlyphs">mAbs</text>
<rect x="56.95" y="691.95" width="10.1" height="9.8" rx="0.8" fill="#000" stroke="#000" stroke-width="1.5"/>
<text x="73.1" y="701.4" font-size="11.6" textLength="18.50" lengthAdjust="spacingAndGlyphs">100</text>
<text x="97.7" y="701.4" font-size="11.6" textLength="28.00" lengthAdjust="spacingAndGlyphs">ng/ml</text>
<text x="131.4" y="701.4" font-size="11.6" textLength="20.30" lengthAdjust="spacingAndGlyphs">IL-2</text>
<rect x="176.95" y="692.85" width="10.1" height="9.8" rx="0.8" fill="#fff" stroke="#000" stroke-width="1.5"/>
<text x="193.1" y="701.4" font-size="11.6" textLength="10.70" lengthAdjust="spacingAndGlyphs">10</text>
<text x="210.4" y="701.4" font-size="11.6" textLength="28.90" lengthAdjust="spacingAndGlyphs">ng/ml</text>
<text x="245.0" y="701.4" font-size="11.6" textLength="19.00" lengthAdjust="spacingAndGlyphs">IL-2</text>
<rect x="286.95" y="691.95" width="10.1" height="9.8" rx="0.8" fill="url(#dots)" stroke="#000" stroke-width="1.5"/>
<text x="305.0" y="701.4" font-size="11.6">1</text>
<text x="316.4" y="701.4" font-size="11.6" textLength="28.90" lengthAdjust="spacingAndGlyphs">ng/ml</text>
<text x="351.0" y="701.4" font-size="11.6" textLength="18.20" lengthAdjust="spacingAndGlyphs">IL-2</text>
<rect x="405.95" y="691.35" width="10.1" height="9.8" rx="0.8" fill="url(#hatchL)" stroke="#000" stroke-width="1.5"/>
<text x="425.2" y="701.4" font-size="11.6" textLength="15.20" lengthAdjust="spacingAndGlyphs">0.1</text>
<text x="446.8" y="701.4" font-size="11.6" textLength="28.20" lengthAdjust="spacingAndGlyphs">ng/ml</text>
<text x="480.6" y="701.4" font-size="11.6" textLength="19.00" lengthAdjust="spacingAndGlyphs">IL-2</text>
</svg></body></html>
